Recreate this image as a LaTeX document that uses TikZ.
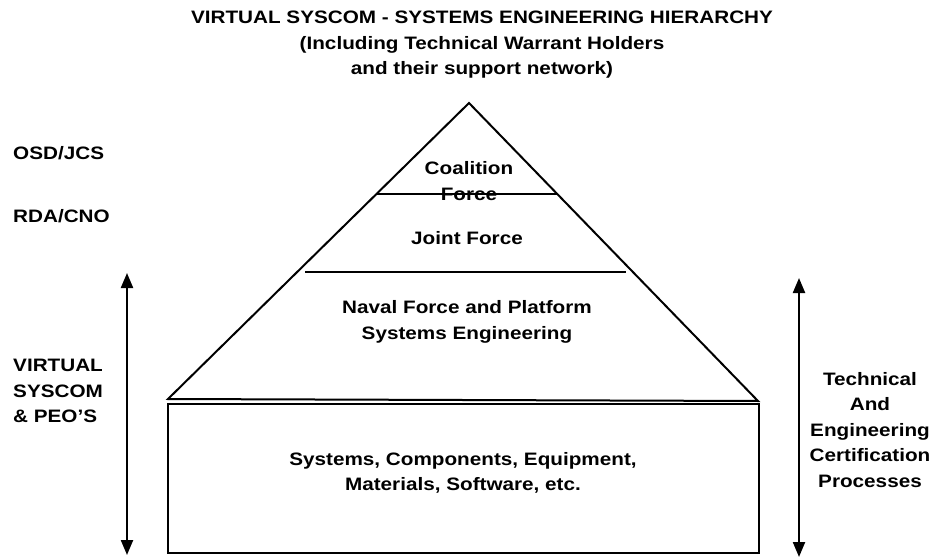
\documentclass[tikz,border=0pt]{standalone}
\usepackage{fontspec}
\setmainfont{Liberation Sans}[FakeStretch=1.15]
\usetikzlibrary{arrows.meta}
\begin{document}
\begin{tikzpicture}[x=1pt,y=-1pt,
  every node/.style={font=\bfseries\fontsize{18}{25.5}\selectfont, inner sep=0pt},
  outline/.style={draw=black, line width=2pt, line join=miter},
  tier/.style={draw=black, line width=2pt},
  span/.style={draw=black, line width=2.2pt, {Triangle[length=15pt,width=12pt]}-{Triangle[length=15pt,width=12pt]}},
  label/.style={align=center},
  side/.style={align=left, anchor=west}]
  \useasboundingbox (0,0) rectangle (935,559);

  % pyramid corners
  \coordinate (apex) at (469,103);
  \coordinate (bl) at (168,399);
  \coordinate (br) at (758,401);
  % tier boundaries
  \coordinate (c1) at (377,194);
  \coordinate (c2) at (557,194);
  \coordinate (j1) at (305,272);
  \coordinate (j2) at (626,272);
  % base box
  \coordinate (b1) at (168,404);
  \coordinate (b2) at (759,553);
  % range arrows
  \coordinate (la1) at (127,273);
  \coordinate (la2) at (127,555);
  \coordinate (ra1) at (799,278);
  \coordinate (ra2) at (799,557);

  \draw[outline] (bl) -- (apex) -- (br) -- cycle;
  \draw[tier] (c1) -- (c2);
  \draw[tier] (j1) -- (j2);
  \draw[outline] (b1) rectangle (b2);

  \draw[span] (la1) -- (la2);
  \draw[span] (ra1) -- (ra2);

  % headings
  \node[label] (title) at (482,45) {VIRTUAL SYSCOM - SYSTEMS ENGINEERING HIERARCHY\\(Including Technical Warrant Holders\\and their support network)};

  % tier labels
  \node[label] (coalition) at (469,181) {Coalition\\Force};
  \node[label] (joint) at (467,238) {Joint Force};
  \node[label] (naval) at (467,322) {Naval Force and Platform\\Systems Engineering};
  \node[label] (items) at (463,473) {Systems, Components, Equipment,\\Materials, Software, etc.};

  % organisation levels
  \node[side] (osd) at (13,153) {OSD/JCS};
  \node[side] (rda) at (13,216) {RDA/CNO};
  \node[side] (virtual) at (13,391) {VIRTUAL\\SYSCOM\\\& PEO’S};

  % certification label
  \node[label] (cert) at (870,430) {Technical\\And\\Engineering\\Certification\\Processes};
\end{tikzpicture}
\end{document}
